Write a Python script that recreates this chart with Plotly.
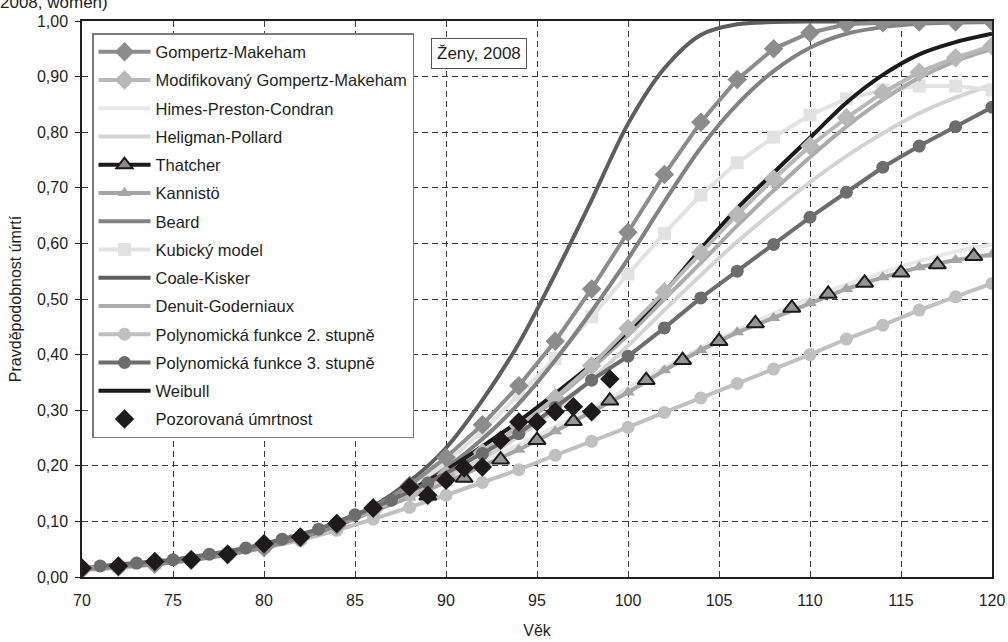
import plotly.graph_objects as go

# ---------------- data ----------------
ages_even = [70, 72, 74, 76, 78, 80, 82, 84, 86, 88, 90, 92, 94, 96, 98, 100,
             102, 104, 106, 108, 110, 112, 114, 116, 118, 120]

gompertz_makeham = [0.014, 0.018, 0.023, 0.030, 0.040, 0.053, 0.070, 0.093, 0.124, 0.165, 0.215, 0.274,
                    0.344, 0.424, 0.518, 0.620, 0.724, 0.818, 0.895, 0.950, 0.979, 0.994, 0.997, 0.998,
                    0.998, 0.999]
mod_gompertz_makeham = [0.015, 0.019, 0.024, 0.031, 0.041, 0.054, 0.071, 0.093, 0.120, 0.150, 0.184, 0.224,
                        0.271, 0.322, 0.380, 0.447, 0.513, 0.583, 0.652, 0.716, 0.775, 0.826, 0.871, 0.908,
                        0.934, 0.955]
himes_preston_condran = [0.016, 0.019, 0.025, 0.032, 0.042, 0.055, 0.071, 0.092, 0.118, 0.145, 0.174, 0.206,
                         0.238, 0.270, 0.304, 0.340, 0.377, 0.412, 0.444, 0.474, 0.501, 0.526, 0.548, 0.568,
                         0.585, 0.598]
heligman_pollard = [0.016, 0.019, 0.025, 0.032, 0.042, 0.055, 0.071, 0.092, 0.120, 0.148, 0.178, 0.213,
                    0.253, 0.300, 0.355, 0.416, 0.480, 0.543, 0.603, 0.658, 0.710, 0.757, 0.798, 0.834,
                    0.862, 0.885]
thatcher_ages = [89, 91, 93, 95, 97, 99, 101, 103, 105, 107, 109, 111, 113, 115, 117, 119]
thatcher = [0.146, 0.178, 0.211, 0.246, 0.280, 0.317, 0.354, 0.390, 0.424, 0.456, 0.484, 0.509,
            0.529, 0.547, 0.562, 0.577]
kannisto = [0.016, 0.019, 0.025, 0.032, 0.042, 0.055, 0.071, 0.092, 0.118, 0.143, 0.170, 0.199,
            0.229, 0.262, 0.297, 0.332, 0.372, 0.408, 0.440, 0.466, 0.493, 0.518, 0.539, 0.557,
            0.570, 0.580]
beard = [0.016, 0.019, 0.025, 0.032, 0.042, 0.055, 0.071, 0.093, 0.121, 0.155, 0.196, 0.248,
         0.312, 0.390, 0.478, 0.572, 0.675, 0.772, 0.850, 0.910, 0.952, 0.977, 0.989, 0.995,
         0.997, 0.998]
kubicky = [0.016, 0.019, 0.025, 0.032, 0.042, 0.055, 0.071, 0.093, 0.122, 0.160, 0.205, 0.262,
           0.328, 0.393, 0.468, 0.545, 0.618, 0.687, 0.745, 0.791, 0.831, 0.860, 0.876, 0.883,
           0.883, 0.876]
coale_kisker = [0.016, 0.019, 0.025, 0.032, 0.042, 0.055, 0.072, 0.094, 0.127, 0.172, 0.232, 0.318,
                0.420, 0.545, 0.678, 0.815, 0.915, 0.975, 0.994, 0.998, 0.999, 0.999, 0.999, 0.999,
                0.999, 0.999]
denuit_goderniaux = [0.016, 0.019, 0.025, 0.032, 0.042, 0.055, 0.071, 0.092, 0.120, 0.150, 0.185, 0.225,
                     0.270, 0.320, 0.375, 0.435, 0.500, 0.565, 0.632, 0.695, 0.755, 0.810, 0.858, 0.898,
                     0.928, 0.950]
poly2 = [0.012, 0.016, 0.022, 0.030, 0.040, 0.052, 0.066, 0.084, 0.104, 0.125, 0.147, 0.170,
         0.193, 0.219, 0.244, 0.269, 0.296, 0.322, 0.348, 0.374, 0.400, 0.428, 0.453, 0.480,
         0.504, 0.528]
poly3_ages = [71, 73, 75, 77, 79, 81, 83, 85, 87, 89, 92, 94, 96, 98, 100, 102, 104, 106, 108,
              110, 112, 114, 116, 118, 120]
poly3 = [0.020, 0.025, 0.031, 0.041, 0.052, 0.068, 0.086, 0.112, 0.138, 0.169, 0.222, 0.258,
         0.305, 0.354, 0.397, 0.448, 0.502, 0.550, 0.598, 0.647, 0.692, 0.737, 0.775, 0.810, 0.845]
weibull = [0.016, 0.019, 0.025, 0.032, 0.042, 0.055, 0.071, 0.093, 0.122, 0.155, 0.192, 0.235,
           0.280, 0.330, 0.382, 0.442, 0.512, 0.590, 0.663, 0.727, 0.790, 0.853, 0.903, 0.940,
           0.962, 0.977]
observed_ages = [70, 72, 74, 76, 78, 80, 82, 84, 86, 88, 89, 90, 91, 92, 93, 94, 95, 96, 97, 98, 99]
observed = [0.016, 0.020, 0.028, 0.031, 0.041, 0.060, 0.072, 0.096, 0.124, 0.162, 0.147, 0.174,
            0.196, 0.198, 0.246, 0.279, 0.279, 0.297, 0.306, 0.297, 0.356]

x_ticks = [70, 75, 80, 85, 90, 95, 100, 105, 110, 115, 120]
y_ticks = [0.0, 0.1, 0.2, 0.3, 0.4, 0.5, 0.6, 0.7, 0.8, 0.9, 1.0]

# ---------------- figure ----------------
fig = go.Figure()
FONT = "Liberation Sans, Arial, sans-serif"
LW = 4


def line_trace(name, x, y, color, rank, width=LW):
    return go.Scatter(
        x=x, y=y, name=name, mode="lines",
        line=dict(color=color, width=width, shape="spline", smoothing=0.9),
        legendrank=rank, legendgroup=name, hoverinfo="skip")


def marker_trace(name, x, y, color, symbol, size, rank):
    return go.Scatter(
        x=x, y=y, name=name, mode="lines+markers",
        line=dict(color=color, width=LW),
        marker=dict(symbol=symbol, size=size, color=color, line=dict(width=0)),
        legendrank=rank, legendgroup=name, hoverinfo="skip")


# drawing order (bottom -> top); legend order via legendrank
fig.add_trace(line_trace("Himes-Preston-Condran", ages_even, himes_preston_condran, "#e8e8e8", 3))
fig.add_trace(line_trace("Heligman-Pollard", ages_even, heligman_pollard, "#d3d3d3", 4))
fig.add_trace(marker_trace("Kubický model", ages_even, kubicky, "#e2e2e2", "square", 13, 8))
fig.add_trace(line_trace("Denuit-Goderniaux", ages_even, denuit_goderniaux, "#ababab", 10))
fig.add_trace(line_trace("Beard", ages_even, beard, "#828282", 7))
fig.add_trace(line_trace("Coale-Kisker", ages_even, coale_kisker, "#5e5e5e", 9))
fig.add_trace(marker_trace("Kannistö", ages_even, kannisto, "#a5a5a5", "triangle-up", 12, 6))
fig.add_trace(marker_trace("Polynomická funkce 2. stupně", ages_even, poly2, "#c0c0c0", "circle", 13, 11))
fig.add_trace(line_trace("Weibull", ages_even, weibull, "#1c1a1b", 13))
fig.add_trace(marker_trace("Modifikovaný Gompertz-Makeham", ages_even, mod_gompertz_makeham,
                           "#b8b8b8", "diamond", 15, 2))
fig.add_trace(marker_trace("Gompertz-Makeham", ages_even, gompertz_makeham, "#8c8c8c", "diamond", 15, 1))
fig.add_trace(marker_trace("Polynomická funkce 3. stupně", poly3_ages, poly3, "#6d6d6d", "circle", 13, 12))
# Thatcher: markers in the plot, legend entry with black line
fig.add_trace(go.Scatter(
    x=thatcher_ages, y=thatcher, name="Thatcher", mode="markers", showlegend=False,
    marker=dict(symbol="triangle-up", size=15, color="#959595", line=dict(color="#1c1a1b", width=2)),
    legendgroup="Thatcher", hoverinfo="skip"))
fig.add_trace(go.Scatter(
    x=[None], y=[None], name="Thatcher", mode="lines+markers", legendrank=5, legendgroup="Thatcher",
    line=dict(color="#1c1a1b", width=LW),
    marker=dict(symbol="triangle-up", size=14, color="#8a8a8a", line=dict(color="#1c1a1b", width=2))))
fig.add_trace(go.Scatter(
    x=observed_ages, y=observed, name="Pozorovaná úmrtnost", mode="markers",
    marker=dict(symbol="diamond", size=15, color="#1c1a1b", line=dict(width=0)),
    legendrank=14, legendgroup="obs", hoverinfo="skip"))

L, R, T, B = 82, 16, 21, 65
W, H = 1008, 642
pw, ph = W - L - R, H - T - B


def px_to_paper(xp, yp):
    return (xp - L) / pw, (H - B - yp) / ph


lx, ly = px_to_paper(92, 33)
bx, by = px_to_paper(479, 54)
tx, ty = px_to_paper(-2, 3)

fig.update_layout(
    width=W, height=H,
    margin=dict(l=L, r=R, t=T, b=B, autoexpand=False),
    paper_bgcolor="white", plot_bgcolor="white",
    separators=", ",
    font=dict(family=FONT, size=16, color="#231f20"),
    showlegend=True,
    legend=dict(
        x=lx, y=ly, xanchor="left", yanchor="top",
        bgcolor="white", bordercolor="#7a7a7a", borderwidth=1.5,
        font=dict(family=FONT, size=16.5, color="#231f20"),
        itemwidth=52, tracegroupgap=3.8, traceorder="grouped",
        itemclick=False, itemdoubleclick=False,
    ),
    xaxis=dict(
        range=[70, 120], tickvals=x_ticks, ticktext=[str(v) for v in x_ticks],
        showgrid=True, gridcolor="#3a3a3a", gridwidth=1, griddash="6px,4px",
        showline=True, linecolor="#231f20", linewidth=2, mirror=True,
        ticks="", ticklabelstandoff=8, zeroline=False,
        title=dict(text="Věk", standoff=17, font=dict(size=16)),
        tickfont=dict(size=16),
    ),
    yaxis=dict(
        range=[0, 1], tickvals=y_ticks, tickformat=".2f",
        showgrid=True, gridcolor="#3a3a3a", gridwidth=1, griddash="6px,4px",
        showline=True, linecolor="#231f20", linewidth=1.5, mirror=True,
        ticks="outside", ticklen=5, tickcolor="#231f20", ticklabelstandoff=4, zeroline=False,
        title=dict(text="Pravděpodobnost úmrtí", standoff=11, font=dict(size=16)),
        tickfont=dict(size=16),
    ),
    annotations=[
        dict(text="Ženy, 2008", xref="paper", yref="paper", x=bx, y=by,
             xanchor="center", yanchor="middle", showarrow=False,
             font=dict(family=FONT, size=17, color="#231f20"),
             bgcolor="white", bordercolor="#555555", borderwidth=1, borderpad=5),
        dict(text="2008, women)", xref="paper", yref="paper", x=tx, y=ty,
             xanchor="left", yanchor="middle", showarrow=False,
             font=dict(family=FONT, size=17, color="#231f20")),
    ],
)

fig.write_html("out.html", config={"displayModeBar": False},
               post_script="document.body.style.margin='0';")
